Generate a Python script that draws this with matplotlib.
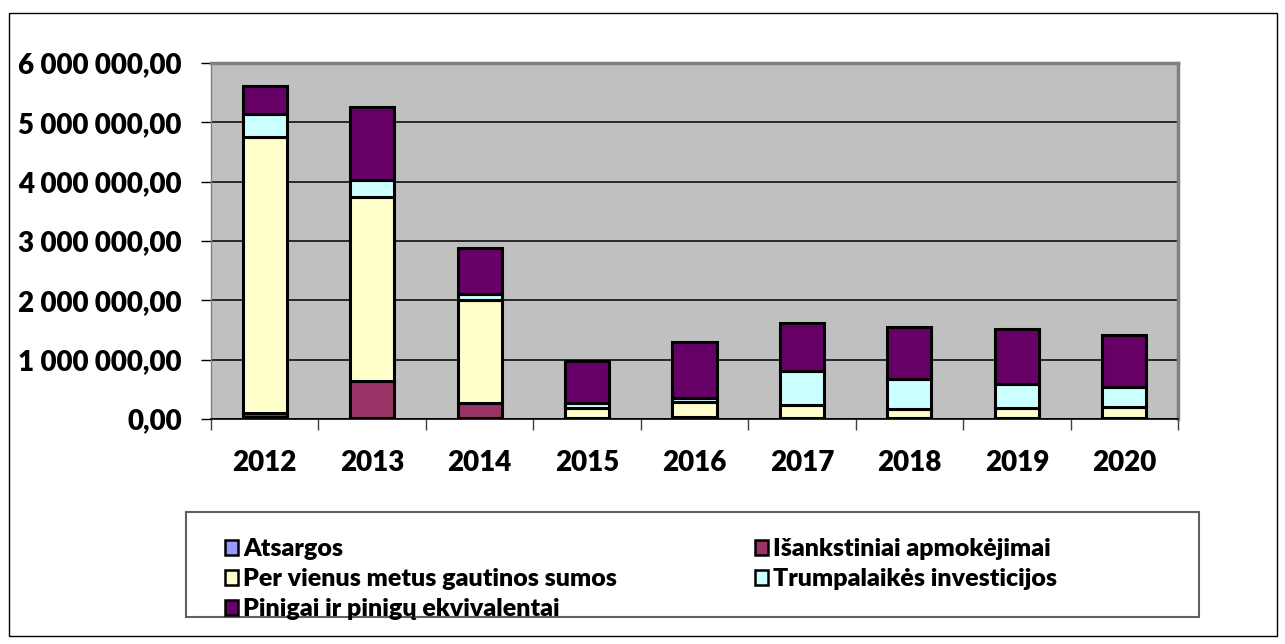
import numpy as np
import matplotlib
matplotlib.use('Agg')
import matplotlib.pyplot as plt
from matplotlib.patches import Rectangle, Patch
from matplotlib.ticker import FuncFormatter

plt.rcParams['font.family'] = ['Lato', 'DejaVu Sans']
plt.rcParams['font.weight'] = 'heavy'

# data (values in EUR)
years = ['2012', '2013', '2014', '2015', '2016', '2017', '2018', '2019', '2020']
atsargos = [40000, 10000, 10000, 5000, 5000, 5000, 5000, 5000, 5000]
isankstiniai = [60000, 625000, 254000, 10000, 25000, 15000, 15000, 15000, 15000]
gautinos = [4658000, 3102000, 1742000, 165000, 251000, 216000, 143000, 160000, 187000]
investicijos = [378000, 286000, 101000, 95000, 78000, 573000, 506000, 405000, 327000]
pinigai = [477000, 1231000, 770000, 708000, 934000, 804000, 887000, 927000, 882000]

series = [
    ('Atsargos', atsargos, '#9999FF'),
    ('Išankstiniai apmokėjimai', isankstiniai, '#993366'),
    ('Per vienus metus gautinos sumos', gautinos, '#FFFFCC'),
    ('Trumpalaikės investicijos', investicijos, '#CCFFFF'),
    ('Pinigai ir pinigų ekvivalentai', pinigai, '#660066'),
]

W, H = 1285, 644
fig = plt.figure(figsize=(W / 100, H / 100), dpi=100)
ax = fig.add_axes([211 / W, 1 - 419 / H, (1178 - 211) / W, (419 - 63) / H])
ax.set_facecolor('#C0C0C0')

x = np.arange(len(years))
bottom = np.zeros(len(years))
handles = {}
for name, vals, col in series:
    ax.bar(x, vals, 0.41, bottom=bottom, color=col, edgecolor='black', linewidth=2.2, zorder=3)
    bottom += np.array(vals)
    handles[name] = Patch(facecolor=col, edgecolor='black', linewidth=1.8)

ax.set_xlim(-0.5, len(years) - 0.5)
ax.set_ylim(0, 6000000)
ax.set_yticks(np.arange(0, 6000001, 1000000))
ax.yaxis.set_major_formatter(FuncFormatter(lambda v, p: '{:,.2f}'.format(v).replace(',', ' ').replace('.', ',')))
ax.grid(axis='y', color='black', linewidth=1.1, zorder=1)
ax.tick_params(axis='y', length=7, width=1, direction='out', pad=14, labelsize=20, colors='black')

ax.set_xticks(x)
ax.set_xticklabels(years, fontsize=20, fontweight='heavy')
ax.tick_params(axis='x', length=0, pad=22)
ax.set_xticks(np.arange(-0.5, len(years), 1), minor=True)
ax.tick_params(axis='x', which='minor', length=8, width=1, color='#404040')

for s in ['top', 'right']:
    ax.spines[s].set_color('#808080')
    ax.spines[s].set_linewidth(2.5)
ax.spines['left'].set_color('#808080')
ax.spines['left'].set_linewidth(1)
ax.spines['bottom'].set_color('black')
ax.spines['bottom'].set_linewidth(1.2)

# outer frame and legend box
fig.patches.append(Rectangle((9 / W, 1 - 636 / H), (1277 - 9) / W, (636 - 13) / H,
                             transform=fig.transFigure, fill=False, edgecolor='black', linewidth=1))
fig.patches.append(Rectangle((186 / W, 1 - 617 / H), (1199 - 186) / W, (617 - 512) / H,
                             transform=fig.transFigure, fill=False, edgecolor='#606060', linewidth=1.5))

order = ['Atsargos', 'Per vienus metus gautinos sumos', 'Pinigai ir pinigų ekvivalentai',
         'Išankstiniai apmokėjimai', 'Trumpalaikės investicijos']
fig.legend([handles[n] for n in order], order, ncol=2, loc='upper left',
           bbox_to_anchor=(212 / W, 1 - 526 / H), frameon=False, fontsize=18,
           handlelength=0.55, handleheight=0.55, handletextpad=0.2,
           columnspacing=5.5, labelspacing=0.32, borderpad=0)

fig.savefig('out.png', dpi=100)
